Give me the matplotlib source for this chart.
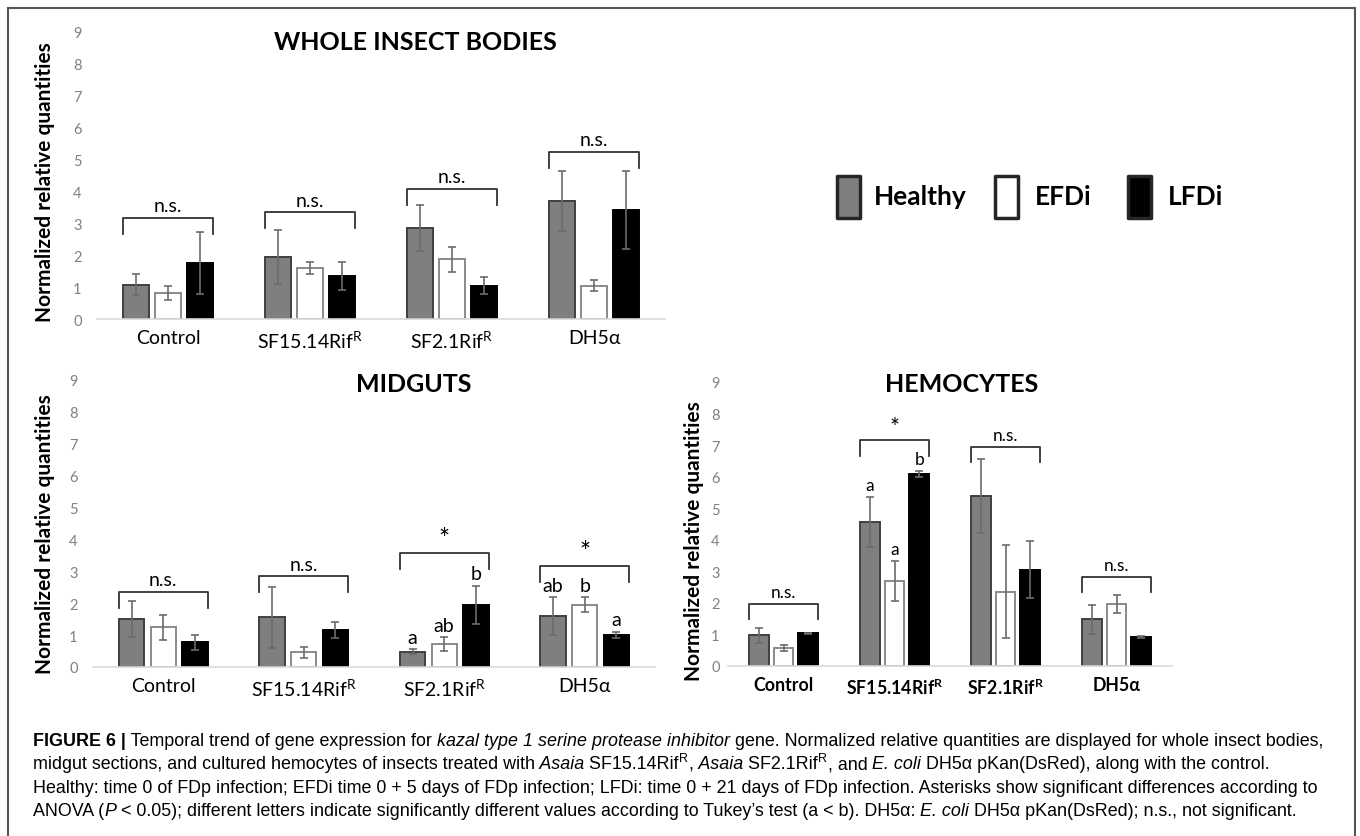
import matplotlib
matplotlib.use("Agg")
import matplotlib.pyplot as plt
from matplotlib.lines import Line2D
from matplotlib.patches import Rectangle
import numpy as np

plt.rcParams["font.family"] = ["Lato", "DejaVu Sans"]
plt.rcParams["mathtext.fontset"] = "custom"
plt.rcParams["mathtext.sf"] = "Lato"
plt.rcParams["mathtext.tt"] = "Lato:bold"

# --------------------------------------------------------------------------- #
# Data
# --------------------------------------------------------------------------- #
groups = ["Healthy", "EFDi", "LFDi"]
categories = ["Control", "SF15.14Rif$^{\\mathsf{R}}$", "SF2.1Rif$^{\\mathsf{R}}$", "DH5α"]
categories_bold = ["Control", "SF15.14Rif$^{\\mathtt{R}}$", "SF2.1Rif$^{\\mathtt{R}}$", "DH5α"]

# whole insect bodies
whole_healthy = [1.08, 1.95, 2.85, 3.70]
whole_healthy_err = [0.33, 0.84, 0.73, 0.95]
whole_efdi = [0.82, 1.60, 1.87, 1.05]
whole_efdi_err = [0.22, 0.20, 0.40, 0.18]
whole_lfdi = [1.76, 1.35, 1.05, 3.42]
whole_lfdi_err = [0.98, 0.45, 0.27, 1.23]
whole_bracket = [3.17, 3.35, 4.08, 5.25]
whole_sig = ["n.s.", "n.s.", "n.s.", "n.s."]
whole_letters = [None, None, None, None]

# midguts
mid_healthy = [1.50, 1.56, 0.48, 1.59]
mid_healthy_err = [0.56, 0.96, 0.08, 0.60]
mid_efdi = [1.24, 0.46, 0.72, 1.95]
mid_efdi_err = [0.40, 0.17, 0.21, 0.23]
mid_lfdi = [0.77, 1.16, 1.94, 1.01]
mid_lfdi_err = [0.24, 0.26, 0.60, 0.10]
mid_bracket = [2.36, 2.84, 3.57, 3.16]
mid_sig = ["n.s.", "n.s.", "*", "*"]
mid_letters = [None, None, ["a", "ab", "b"], ["ab", "b", "a"]]

# hemocytes
hemo_healthy = [0.97, 4.57, 5.38, 1.48]
hemo_healthy_err = [0.25, 0.80, 1.18, 0.46]
hemo_efdi = [0.58, 2.70, 2.36, 1.96]
hemo_efdi_err = [0.09, 0.63, 1.47, 0.28]
hemo_lfdi = [1.04, 6.08, 3.05, 0.93]
hemo_lfdi_err = [0.02, 0.10, 0.90, 0.03]
hemo_bracket = [1.98, 7.16, 6.95, 2.83]
hemo_sig = ["n.s.", "*", "n.s.", "n.s."]
hemo_letters = [None, ["a", "a", "b"], None, None]

# caption pieces: (text, style) with r=regular, i=italic, b=bold, s=superscript
caption_lines = [
    [("FIGURE 6 |", "b"), (" Temporal trend of gene expression for", "r"),
     (" kazal type 1 serine protease inhibitor", "i"),
     (" gene. Normalized relative quantities are displayed for whole insect bodies,", "r")],
    [("midgut sections, and cultured hemocytes of insects treated with", "r"), (" Asaia", "i"),
     (" SF15.14Rif", "r"), ("R", "s"), (",", "r"), (" Asaia", "i"), (" SF2.1Rif", "r"), ("R", "s"),
     (", and", "r"), (" E. coli", "i"), (" DH5α pKan(DsRed), along with the control.", "r")],
    [("Healthy: time 0 of FDp infection; EFDi time 0 + 5 days of FDp infection; LFDi: time 0 + 21 "
      "days of FDp infection. Asterisks show significant differences according to", "r")],
    [("ANOVA (", "r"), ("P", "i"), (" < 0.05); different letters indicate significantly different "
      "values according to Tukey’s test (a < b). DH5α:", "r"), (" E. coli", "i"),
     (" DH5α pKan(DsRed); n.s., not significant.", "r")],
]

W, H = 1360, 837
fig = plt.figure(figsize=(W / 100, H / 100), dpi=100)


def px(x, y):
    """Pixel position (from top-left) -> figure fraction."""
    return x / W, 1 - y / H


def axes_at(x0, x1, y_zero, y_nine):
    return fig.add_axes([x0 / W, 1 - y_zero / H, (x1 - x0) / W, (y_zero - y_nine) / H])


FILLS = ["#7f7f7f", "white", "black"]
EDGES = ["#404040", "#8a8a8a", "black"]


def draw_panel(ax, labels, vals, errs, bracket, sig, letters, small=False, bold=False):
    x = np.arange(len(labels))
    off, width = 0.225, 0.18
    for i in range(3):
        ax.bar(x + (i - 1) * off, vals[i], width, yerr=errs[i],
               color=FILLS[i], edgecolor=EDGES[i], linewidth=1.4,
               error_kw=dict(ecolor="#6b6b6b", elinewidth=1.2, capsize=3, capthick=1.2))
    fs = 12.5 if small else 14
    for k in range(len(labels)):
        x0, x1 = x[k] - off - width / 2, x[k] + off + width / 2
        top = bracket[k]
        ax.plot([x0, x0, x1, x1], [top - 0.5, top, top, top - 0.5], color="#333333", lw=1.3)
        # the asterisk glyph is small, so it gets a bigger size
        star = sig[k] == "*"
        ax.text(x[k], top + (0.42 if star else 0.38), sig[k], ha="center", va="center",
                fontsize=fs * 1.35 if star else fs)
        if letters[k]:
            for i, lt in enumerate(letters[k]):
                ax.text(x[k] + (i - 1) * off, vals[i][k] + errs[i][k] + 0.38, lt,
                        ha="center", va="center", fontsize=fs)
    ax.set_xlim(-0.5, len(labels) - 0.5)
    ax.set_ylim(0, 9)
    ax.set_yticks(range(10))
    ax.tick_params(axis="y", length=0, pad=6 if small else 11, labelsize=10.5,
                   labelcolor="#808080")
    ax.set_xticks(x)
    ax.set_xticklabels(labels, fontsize=12.8 if small else 14,
                       fontweight="bold" if bold else "normal")
    ax.tick_params(axis="x", length=0, pad=7)
    for s in ["top", "right", "left"]:
        ax.spines[s].set_visible(False)
    ax.spines["bottom"].set_color("#d9d9d9")
    ax.spines["bottom"].set_linewidth(1.2)


ax_whole = axes_at(97, 665, 320, 33)
draw_panel(ax_whole, categories,
           [whole_healthy, whole_efdi, whole_lfdi],
           [whole_healthy_err, whole_efdi_err, whole_lfdi_err],
           whole_bracket, whole_sig, whole_letters)

ax_mid = axes_at(93, 655, 668, 381)
draw_panel(ax_mid, categories,
           [mid_healthy, mid_efdi, mid_lfdi],
           [mid_healthy_err, mid_efdi_err, mid_lfdi_err],
           mid_bracket, mid_sig, mid_letters)

ax_hemo = axes_at(728, 1172, 667, 383)
draw_panel(ax_hemo, categories_bold,
           [hemo_healthy, hemo_efdi, hemo_lfdi],
           [hemo_healthy_err, hemo_efdi_err, hemo_lfdi_err],
           hemo_bracket, hemo_sig, hemo_letters, small=True, bold=True)

# panel titles and y labels
fig.text(*px(415, 43), "WHOLE INSECT BODIES", ha="center", va="center", fontsize=18, weight="bold")
fig.text(*px(414, 385), "MIDGUTS", ha="center", va="center", fontsize=18, weight="bold")
fig.text(*px(962, 385), "HEMOCYTES", ha="center", va="center", fontsize=18, weight="bold")
ylab = "Normalized relative quantities"
for xx, yy in [(45, 182), (45, 534), (694, 541)]:
    fig.text(*px(xx, yy), ylab, rotation=90, ha="center", va="center", fontsize=15, weight="bold")

# legend drawn by hand
leg_x = [837, 995, 1128]
leg_text_x = [874, 1035, 1168]
for i, g in enumerate(groups):
    x0, y0 = px(leg_x[i], 219)
    x1, y1 = px(leg_x[i] + 23, 177)
    fig.add_artist(Rectangle((x0, y0), x1 - x0, y1 - y0, transform=fig.transFigure,
                             facecolor=FILLS[i], edgecolor="#262626", lw=2.5,
                             joinstyle="round"))
    fig.text(*px(leg_text_x[i], 197), g, ha="left", va="center", fontsize=19, weight="bold")

# frame around figure + caption
for xs, ys in [([8, 8], [837, 9]), ([8, 1355], [9, 9]), ([1355, 1355], [9, 837])]:
    fig.add_artist(Line2D([x / W for x in xs], [1 - y / H for y in ys],
                          color="#555555", lw=1.5, transform=fig.transFigure))

# caption: pieces laid out one after another on a shared baseline
renderer = fig.canvas.get_renderer()
cap_fs = 12.9
cap_family = ["Liberation Sans", "DejaVu Sans"]
for li, pieces in enumerate(caption_lines):
    xcur = 33
    base = 746 + 23.3 * li
    for text, style in pieces:
        kw = dict(ha="left", va="baseline", family=cap_family, fontsize=cap_fs)
        ypos = base
        if style == "i":
            kw["style"] = "italic"
        elif style == "b":
            kw["weight"] = "bold"
        elif style == "s":
            kw["fontsize"] = cap_fs * 0.7
            ypos = base - 7
        t = fig.text(*px(xcur, ypos), text, **kw)
        xcur += t.get_window_extent(renderer).width + (1 if style == "s" else 0)

fig.savefig("out.png", dpi=100)
